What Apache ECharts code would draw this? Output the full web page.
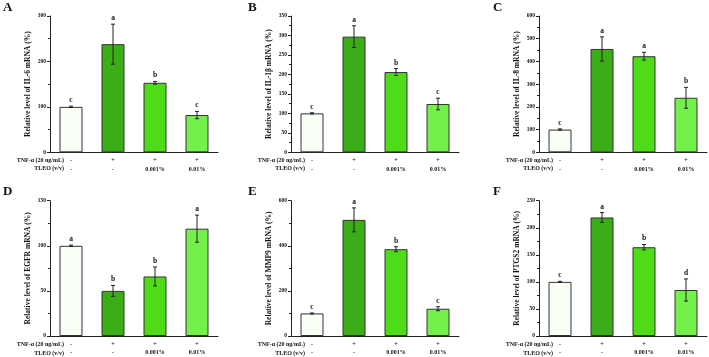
<!DOCTYPE html>
<html>
<head>
<meta charset="utf-8">
<title>mRNA levels</title>
<script src="https://cdn.jsdelivr.net/npm/echarts@6/dist/echarts.min.js"></script>
<style>
  html, body { margin: 0; padding: 0; background: #fff; }
  #main { width: 709px; height: 357px; }
</style>
</head>
<body>
<div id="main"></div>
<script>
// treatment rows under each bar
var tnfRow = ['-', '+', '+', '+'];
var tleoRow = ['-', '-', '0.001%', '0.01%'];

// panel letters and y axis names
var panelLetters = ['A', 'B', 'C', 'D', 'E', 'F'];
var yNames = [
  'Relative level of IL-6 mRNA (%)',
  'Relative level of IL-1β mRNA (%)',
  'Relative level of IL-8 mRNA (%)',
  'Relative level of EGFR mRNA (%)',
  'Relative level of MMP9 mRNA (%)',
  'Relative level of PTGS2 mRNA (%)'
];
var yMax = [300, 350, 600, 150, 600, 250];
var yStep = [100, 50, 100, 50, 200, 50];

// values (mean, error, significance letter)
var il6Mean = [100, 238, 153, 82];
var il6Err = [1.5, 44, 3, 8];
var il6Sig = ['c', 'a', 'b', 'c'];

var il1bMean = [100, 297, 206, 124];
var il1bErr = [1.5, 28, 9, 15];
var il1bSig = ['c', 'a', 'b', 'c'];

var il8Mean = [100, 455, 423, 240];
var il8Err = [3, 53, 17, 46];
var il8Sig = ['c', 'a', 'a', 'b'];

var egfrMean = [100, 50, 66, 119];
var egfrErr = [0.8, 6, 10.5, 15];
var egfrSig = ['a', 'b', 'b', 'a'];

var mmp9Mean = [100, 515, 385, 121];
var mmp9Err = [2, 53, 11, 9];
var mmp9Sig = ['c', 'a', 'b', 'c'];

var ptgs2Mean = [100, 219, 164, 85];
var ptgs2Err = [1, 9, 5, 20.5];
var ptgs2Sig = ['c', 'a', 'b', 'd'];

var means = [il6Mean, il1bMean, il8Mean, egfrMean, mmp9Mean, ptgs2Mean];
var errs = [il6Err, il1bErr, il8Err, egfrErr, mmp9Err, ptgs2Err];
var sigs = [il6Sig, il1bSig, il8Sig, egfrSig, mmp9Sig, ptgs2Sig];

var barColors = ['#fafff6', '#3aad17', '#4edb18', '#74f04a'];
var serif = '"Liberation Serif", "DejaVu Serif", serif';

var colLeft = [50, 291, 539];
var rowTop = [16, 200.7];
var gridW = 168, gridH = 136.3;
var letterX = [3, 248, 493];

var myChart = echarts.init(document.getElementById('main'));

var grids = [], xAxes = [], yAxes = [], series = [], graphics = [];

function catLabels() {
  return tnfRow.map(function (t, i) { return t + '\n' + tleoRow[i]; });
}

function errorBars(p) {
  return function (params, api) {
    var i = api.value(0), m = api.value(1), e = api.value(2);
    var hi = api.coord([i, m + e]);
    var lo = api.coord([i, m - e]);
    var cap = 2;
    var st = { stroke: '#222', lineWidth: 1 };
    return {
      type: 'group',
      children: [
        { type: 'line', shape: { x1: hi[0], y1: hi[1], x2: lo[0], y2: lo[1] }, style: st },
        { type: 'line', shape: { x1: hi[0] - cap, y1: hi[1], x2: hi[0] + cap, y2: hi[1] }, style: st },
        { type: 'line', shape: { x1: lo[0] - cap, y1: lo[1], x2: lo[0] + cap, y2: lo[1] }, style: st },
        { type: 'text', x: hi[0], y: hi[1] - 2,
          style: { text: sigs[p][params.dataIndex], fill: '#111', font: 'bold 7.5px ' + serif,
                   textAlign: 'center', textVerticalAlign: 'bottom' } }
      ]
    };
  };
}

for (var p = 0; p < 6; p++) {
  var col = p % 3, row = Math.floor(p / 3);
  var gLeft = colLeft[col], gTop = rowTop[row];
  grids.push({ left: gLeft, top: gTop, width: gridW, height: gridH });

  // main axis: labels + ticks on category boundaries
  xAxes.push({
    type: 'category', gridIndex: p, data: catLabels(),
    axisLine: { lineStyle: { color: '#222', width: 1 } },
    axisTick: { length: 2.5, lineStyle: { color: '#222' } },
    axisLabel: {
      color: '#111', fontFamily: serif, fontWeight: 'bold', fontSize: 6,
      lineHeight: 8.5, margin: 4, interval: 0
    }
  });
  // second axis only for ticks at category centres
  xAxes.push({
    type: 'category', gridIndex: p, data: catLabels(), position: 'bottom', offset: 0,
    axisLine: { show: false },
    axisTick: { alignWithLabel: true, length: 2.5, lineStyle: { color: '#222' } },
    axisLabel: { show: false }
  });

  yAxes.push({
    type: 'value', gridIndex: p, min: 0, max: yMax[p], interval: yStep[p],
    name: yNames[p], nameLocation: 'middle', nameGap: 18,
    nameTextStyle: { color: '#111', fontFamily: serif, fontWeight: 'bold', fontSize: 7.5 },
    axisLine: { show: true, lineStyle: { color: '#222', width: 1 } },
    axisTick: { show: true, length: 3, lineStyle: { color: '#222' } },
    minorTick: { show: true, splitNumber: 2, length: 2, lineStyle: { color: '#222' } },
    splitLine: { show: false },
    axisLabel: { color: '#111', fontFamily: serif, fontWeight: 'bold', fontSize: 5.5, margin: 4 }
  });

  series.push({
    type: 'bar', xAxisIndex: 2 * p, yAxisIndex: p,
    data: means[p].slice(), barWidth: 23,
    itemStyle: {
      color: function (prm) { return barColors[prm.dataIndex]; },
      borderColor: '#333', borderWidth: 1
    }
  });

  series.push({
    type: 'custom', xAxisIndex: 2 * p, yAxisIndex: p, z: 5,
    data: means[p].map(function (m, i) { return [i, m, errs[p][i]]; }),
    encode: { x: 0, y: 1 },
    renderItem: errorBars(p)
  });

  var y1 = gTop + gridH + 7.7;
  graphics.push({ type: 'text', x: gLeft + 14, y: y1,
    style: { text: 'TNF-α (20 ng/mL)', fill: '#111', font: 'bold 6px ' + serif, textAlign: 'right', textVerticalAlign: 'middle' } });
  graphics.push({ type: 'text', x: gLeft + 14, y: y1 + 8.5,
    style: { text: 'TLEO (v/v)', fill: '#111', font: 'bold 6px ' + serif, textAlign: 'right', textVerticalAlign: 'middle' } });
  graphics.push({ type: 'text', x: letterX[col], y: row === 0 ? 1 : 185,
    style: { text: panelLetters[p], fill: '#111', font: 'bold 13px ' + serif, textAlign: 'left', textVerticalAlign: 'top' } });
}

myChart.setOption({
  backgroundColor: '#fff',
  animation: false,
  grid: grids,
  xAxis: xAxes,
  yAxis: yAxes,
  series: series,
  graphic: graphics
});
</script>
</body>
</html>
